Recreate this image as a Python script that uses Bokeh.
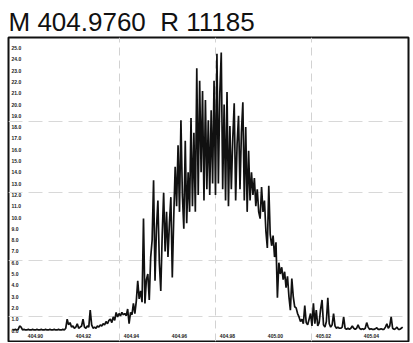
from bokeh.plotting import figure
from bokeh.models import Range1d, Grid, FixedTicker, ColumnDataSource
from bokeh.core.properties import value
from bokeh.embed import file_html
from bokeh.resources import INLINE

title_text = "M 404.9760 \u00a0R 11185"

# sampling grid of the spectrum (m/z)
mz_start = 404.8904
mz_step = 0.0006

# intensity (arbitrary units)
intensity = [
    0.1, 0.05, 0.1, 0.05, 0.1, 0.4, 0.3, 0.05, 0.1, 0.05,
    0.05, 0.1, 0.05, 0.05, 0.1, 0.05, 0.05, 0.1, 0.05, 0.05,
    0.1, 0.05, 0.05, 0.1, 0.05, 0.05, 0.1, 0.05, 0.05, 0.1,
    0.05, 0.05, 0.1, 0.05, 0.05, 0.1, 0.05, 0.2, 1.0, 0.5,
    0.7, 0.3, 0.4, 0.2, 0.3, 0.6, 0.2, 0.3, 0.4, 1.0,
    0.3, 0.2, 0.4, 0.3, 1.8, 0.5, 0.2, 0.3, 0.2, 0.4,
    0.3, 0.5, 0.4, 0.6, 0.5, 0.8, 0.6, 0.9, 1.0, 0.7,
    1.2, 0.9, 1.6, 1.2, 1.5, 1.3, 1.6, 1.4, 1.5, 1.3,
    1.9, 0.6, 1.6, 1.4, 2.4, 1.5, 2.6, 4.4, 2.8, 3.5,
    2.5, 9.9, 2.4, 4.5, 5.0, 2.7, 6.5, 8.0, 13.3, 4.4,
    9.0, 11.5, 6.0, 3.5, 8.5, 12.2, 7.0, 10.5, 6.5, 9.5,
    11.8, 4.7, 10.0, 14.5, 11.0, 16.4, 10.5, 18.6, 12.0, 9.0,
    16.8, 9.5, 14.0, 10.5, 18.8, 11.0, 17.5, 10.5, 23.2, 12.0,
    22.1, 14.0, 21.2, 11.5, 20.4, 12.5, 18.6, 12.0, 19.5, 13.0,
    22.1, 12.0, 24.5, 13.0, 21.0, 24.6, 12.5, 20.0, 11.5, 21.1,
    11.0, 18.1, 12.5, 17.0, 20.1, 11.5, 16.5, 19.0, 12.5, 17.5,
    20.2, 11.5, 18.0, 10.5, 15.9, 11.5, 14.0, 12.0, 13.5, 11.0,
    12.5, 10.5, 9.9, 12.7, 10.5, 11.5, 8.8, 7.3, 12.8, 8.5,
    7.5, 8.4, 6.5, 7.8, 2.9, 6.0, 5.0, 5.6, 4.5, 5.2,
    3.8, 4.8, 3.0, 1.8, 4.6, 3.0, 2.1, 2.0, 1.5, 1.2,
    0.8, 1.0, 0.6, 2.2, 0.7, 0.5, 1.0, 1.5, 0.4, 2.4,
    0.6, 1.8, 0.4, 0.7, 1.9, 2.7, 0.5, 0.3, 0.8, 2.9,
    0.6, 0.3, 0.5, 1.5, 0.4, 0.2, 0.3, 0.2, 0.2, 0.3,
    1.2, 0.2, 0.1, 0.2, 0.1, 0.2, 0.4, 0.2, 0.1, 0.2,
    0.5, 0.2, 0.1, 0.15, 0.1, 0.2, 0.7, 0.3, 0.1, 0.15,
    0.1, 0.1, 0.15, 0.25, 0.1, 0.1, 0.15, 0.1, 0.1, 0.3,
    0.6, 0.2, 0.4, 1.2, 0.2, 0.1, 0.15, 0.3, 0.1, 0.1,
    0.2, 0.3,
]

x_ticks = [404.90, 404.92, 404.94, 404.96, 404.98, 405.00, 405.02, 405.04]
x_tick_labels = ["404.90", "404.92", "404.94", "404.96", "404.98", "405.00", "405.02", "405.04"]
y_ticks = [0, 1, 2, 3, 4, 5, 6, 7, 8, 9, 10, 11, 12, 13, 14, 15, 16, 17, 18, 19, 20, 21, 22, 23, 24, 25]
y_tick_labels = ["0.0", "1.0", "2.0", "3.0", "4.0", "5.0", "6.0", "7.0", "8.0", "9.0", "10.0", "11.0", "12.0",
                 "13.0", "14.0", "15.0", "16.0", "17.0", "18.0", "19.0", "20.0", "21.0", "22.0", "23.0",
                 "24.0", "25.0"]
grid_x = [404.935, 404.975, 405.015]
grid_y = [1.2, 6.2, 12.2, 18.5]

x_lo, x_hi = 404.88875, 405.05542
y_lo, y_hi = -0.973, 25.93

mz = [mz_start + i * mz_step for i in range(len(intensity))]
src = ColumnDataSource(dict(mz=mz, inten=intensity))

p = figure(width=410, height=342, output_backend="svg", toolbar_location=None,
           x_axis_type=None, y_axis_type=None,
           x_range=Range1d(x_lo, x_hi), y_range=Range1d(y_lo, y_hi),
           min_border_left=8, min_border_right=2, min_border_bottom=1, min_border_top=37)

p.title.text = title_text
p.title.text_font = "Liberation Sans"
p.title.text_font_size = "26px"
p.title.text_font_style = "normal"
p.title.text_color = "#111111"
p.title.align = "left"
p.title.standoff = 1
p.title.offset = 0

p.outline_line_color = "#111111"
p.outline_line_width = 2
p.background_fill_color = "white"
p.border_fill_color = "white"

p.add_layout(Grid(dimension=0, ticker=FixedTicker(ticks=grid_x),
                  grid_line_color="#d2d2d2", grid_line_dash="8 5", grid_line_width=1))
p.add_layout(Grid(dimension=1, ticker=FixedTicker(ticks=grid_y),
                  grid_line_color="#d8d8d8", grid_line_dash="14 6", grid_line_width=1))

p.line("mz", "inten", source=src, line_color="#111111", line_width=1.7)

p.text(x=[x_lo] * len(y_ticks), y=y_ticks, text=y_tick_labels,
       x_offset=3, text_align="left", text_baseline="middle",
       text_font=value("Liberation Sans"), text_font_size="5px", text_font_style="bold",
       text_color="#222222")
p.text(x=x_ticks, y=[y_lo] * len(x_ticks), text=x_tick_labels,
       y_offset=-6, text_align="center", text_baseline="middle",
       text_font=value("Liberation Sans"), text_font_size="5px", text_font_style="bold",
       text_color="#222222")

open("out.html", "w").write(file_html(p, INLINE))
